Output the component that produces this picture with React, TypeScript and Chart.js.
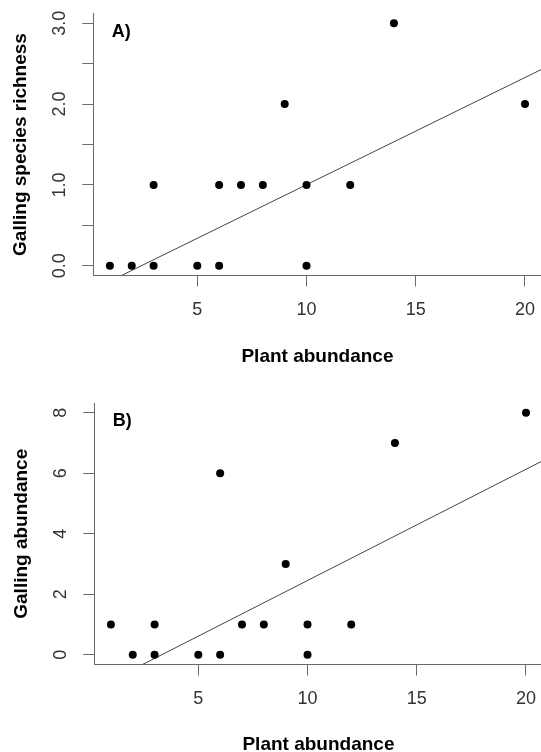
import React, { useEffect, useRef } from 'react';
import { Chart, registerables } from 'chart.js';

Chart.register(...registerables);

const FONT = '"Liberation Sans", Arial, Helvetica, sans-serif';

// Panel A data
const plantAbundanceA = [1, 2, 3, 3, 5, 6, 6, 7, 8, 9, 10, 10, 12, 14, 20];
const speciesRichness = [0, 0, 0, 1, 0, 0, 1, 1, 1, 2, 1, 0, 1, 3, 2];
const fitLineAX = [1.54, 20.76];
const fitLineAY = [-0.12, 2.43];
const yTicksA = [0, 0.5, 1, 1.5, 2, 2.5, 3];
const yTickLabelsA = ['0.0', '', '1.0', '', '2.0', '', '3.0'];

// Panel B data
const plantAbundanceB = [1, 2, 3, 3, 5, 6, 6, 7, 8, 9, 10, 10, 12, 14, 20];
const gallingAbundance = [1, 0, 1, 0, 0, 0, 6, 1, 1, 3, 1, 0, 1, 7, 8];
const fitLineBX = [2.45, 20.76];
const fitLineBY = [-0.32, 6.41];
const yTicksB = [0, 2, 4, 6, 8];
const yTickLabelsB = ['0', '2', '4', '6', '8'];

// Shared x axis
const xTicks = [5, 10, 15, 20];
const xLabel = 'Plant abundance';

const AXIS_COLOR = '#6a6a6a';
const TICK_TEXT = '#333333';

const panelExtras = {
  id: 'panelExtras',
  afterDraw(chart: any, _args: any, opts: any) {
    const { ctx, chartArea } = chart;
    const yScale = chart.scales.y;
    ctx.save();
    ctx.fillStyle = TICK_TEXT;
    ctx.font = `normal 18px ${FONT}`;
    ctx.textAlign = 'center';
    ctx.textBaseline = 'middle';
    opts.yValues.forEach((v: number, i: number) => {
      const label = opts.yLabels[i];
      if (!label) return;
      const py = yScale.getPixelForValue(v);
      ctx.save();
      ctx.translate(chartArea.left - opts.labelOffset, py);
      ctx.rotate(-Math.PI / 2);
      ctx.fillText(label, 0, 0);
      ctx.restore();
    });
    ctx.fillStyle = '#000';
    ctx.font = `bold 18px ${FONT}`;
    ctx.textAlign = 'left';
    ctx.textBaseline = 'alphabetic';
    ctx.fillText(opts.panel, chartArea.left + opts.panelDx, chartArea.top + opts.panelDy);
    ctx.restore();
  },
};

function makeChart(canvas: HTMLCanvasElement, p: any) {
  return new Chart(canvas, {
    type: 'scatter',
    data: {
      datasets: [
        {
          label: 'points',
          data: p.xs.map((x: number, i: number) => ({ x, y: p.ys[i] })),
          backgroundColor: '#000',
          borderColor: '#000',
          borderWidth: 0,
          pointRadius: 4,
          pointHoverRadius: 4,
        },
        {
          label: 'fit',
          data: p.lx.map((x: number, i: number) => ({ x, y: p.ly[i] })),
          showLine: true,
          borderColor: '#444',
          borderWidth: 1,
          pointRadius: 0,
          pointHoverRadius: 0,
          fill: false,
        },
      ],
    },
    plugins: [panelExtras],
    options: {
      animation: false,
      responsive: false,
      maintainAspectRatio: false,
      events: [],
      layout: { padding: { left: 0, top: p.padTop, right: p.padRight, bottom: 0 } },
      plugins: {
        legend: { display: false },
        tooltip: { enabled: false },
        panelExtras: {
          yValues: p.yTicks,
          yLabels: p.yLabels,
          labelOffset: 33.5,
          panel: p.panel,
          panelDx: 18.4,
          panelDy: p.panelDy,
        },
      } as any,
      scales: {
        x: {
          type: 'linear',
          min: 0.24,
          max: 20.76,
          afterBuildTicks: (axis: any) => {
            axis.ticks = xTicks.map((v) => ({ value: v }));
          },
          afterFit: (scale: any) => {
            scale.height = p.xHeight;
          },
          grid: {
            display: true,
            drawOnChartArea: false,
            drawTicks: true,
            tickLength: 11,
            color: AXIS_COLOR,
            tickColor: AXIS_COLOR,
            lineWidth: 1,
          },
          border: { display: true, color: AXIS_COLOR, width: 1 },
          ticks: {
            autoSkip: false,
            maxRotation: 0,
            minRotation: 0,
            padding: 13,
            color: TICK_TEXT,
            font: { family: FONT, size: 18 },
            callback: (v: any) => String(v),
          },
          title: {
            display: true,
            text: xLabel,
            color: '#000',
            font: { family: FONT, size: 19, weight: 'bold' },
            padding: { top: 0, bottom: p.xTitlePad },
          },
        },
        y: {
          type: 'linear',
          min: p.yMin,
          max: p.yMax,
          afterBuildTicks: (axis: any) => {
            axis.ticks = p.yTicks.map((v: number) => ({ value: v }));
          },
          afterFit: (scale: any) => {
            scale.width = p.yWidth;
          },
          grid: {
            display: true,
            drawOnChartArea: false,
            drawTicks: true,
            tickLength: 11,
            color: AXIS_COLOR,
            tickColor: AXIS_COLOR,
            lineWidth: 1,
          },
          border: { display: true, color: AXIS_COLOR, width: 1 },
          ticks: { display: false },
          title: {
            display: true,
            text: p.yLabel,
            color: '#000',
            font: { family: FONT, size: 19, weight: 'bold' },
            padding: { top: p.yTitlePad, bottom: 0 },
          },
        },
      },
    } as any,
  });
}

const panelA = {
  xs: plantAbundanceA,
  ys: speciesRichness,
  lx: fitLineAX,
  ly: fitLineAY,
  yTicks: yTicksA,
  yLabels: yTickLabelsA,
  yMin: -0.12,
  yMax: 3.12,
  yLabel: 'Galling species richness',
  panel: 'A)',
  padTop: 13.6,
  padRight: 18.4,
  xHeight: 100.6,
  yWidth: 93.3,
  xTitlePad: 7.9,
  yTitlePad: 9.6,
  panelDy: 23,
};

const panelB = {
  xs: plantAbundanceB,
  ys: gallingAbundance,
  lx: fitLineBX,
  ly: fitLineBY,
  yTicks: yTicksB,
  yLabels: yTickLabelsB,
  yMin: -0.32,
  yMax: 8.32,
  yLabel: 'Galling abundance',
  panel: 'B)',
  padTop: 27,
  padRight: 17.4,
  xHeight: 111.5,
  yWidth: 94.3,
  xTitlePad: 19.5,
  yTitlePad: 10.6,
  panelDy: 22.5,
};

export default function App() {
  const refA = useRef<HTMLCanvasElement>(null);
  const refB = useRef<HTMLCanvasElement>(null);
  useEffect(() => {
    document.body.style.margin = '0';
    const a = makeChart(refA.current as HTMLCanvasElement, panelA);
    const b = makeChart(refB.current as HTMLCanvasElement, panelB);
    return () => {
      a.destroy();
      b.destroy();
    };
  }, []);
  return (
    <div
      style={{
        position: 'fixed',
        left: 0,
        top: 0,
        width: 541,
        height: 752,
        overflow: 'hidden',
        background: '#fff',
      }}
    >
      <canvas ref={refA} width={560} height={376} style={{ position: 'absolute', left: 0, top: 0 }} />
      <canvas ref={refB} width={560} height={400} style={{ position: 'absolute', left: 0, top: 376 }} />
    </div>
  );
}
